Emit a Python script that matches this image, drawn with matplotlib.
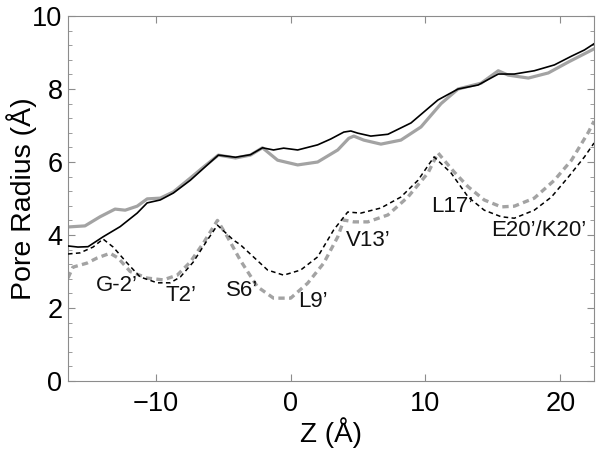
import matplotlib
matplotlib.use("Agg")
import matplotlib.pyplot as plt
from matplotlib.ticker import MultipleLocator

plt.rcParams['font.family'] = ['Liberation Sans', 'DejaVu Sans']

# Upper solid black curve
z_black_solid = [-16.5, -15.76, -15.01, -13.90, -12.63, -11.37, -10.63, -9.66, -8.69, -7.43,
                 -6.17, -5.35, -4.08, -2.97, -2.08, -1.26, -0.51, 0.53, 2.01, 2.98,
                 3.95, 4.47, 4.99, 5.95, 7.22, 8.93, 10.93, 12.42, 13.91, 15.40,
                 16.59, 18.07, 19.56, 20.83, 21.79, 22.5]
r_black_solid = [3.70, 3.67, 3.68, 3.95, 4.23, 4.60, 4.88, 4.96, 5.15, 5.50,
                 5.92, 6.19, 6.13, 6.20, 6.39, 6.33, 6.38, 6.33, 6.47, 6.63,
                 6.82, 6.85, 6.79, 6.71, 6.76, 7.07, 7.70, 8.00, 8.11, 8.41,
                 8.41, 8.50, 8.66, 8.90, 9.07, 9.24]

# Upper solid gray curve
z_gray_solid = [-16.5, -15.24, -14.12, -13.01, -12.26, -11.37, -10.63, -9.66, -8.69, -7.43,
                -6.46, -5.35, -4.08, -2.97, -2.08, -0.96, 0.53, 2.01, 3.50, 4.32,
                4.69, 5.43, 6.70, 8.18, 9.67, 11.16, 12.42, 14.13, 15.40, 16.14,
                17.63, 19.11, 20.60, 22.5]
r_gray_solid = [4.22, 4.25, 4.50, 4.71, 4.68, 4.79, 4.99, 5.01, 5.18, 5.56,
                5.86, 6.19, 6.11, 6.19, 6.39, 6.05, 5.92, 6.00, 6.33, 6.65,
                6.71, 6.60, 6.49, 6.60, 6.96, 7.60, 8.00, 8.16, 8.50, 8.38,
                8.30, 8.44, 8.74, 9.10]

# Lower dashed black curve
z_black_dash = [-16.5, -15.61, -14.64, -13.90, -13.15, -12.11, -11.15, -9.88, -8.92, -8.17,
                -7.21, -6.17, -5.42, -4.23, -3.71, -2.75, -1.70, -0.51, 0.75, 2.01,
                3.20, 4.24, 5.21, 6.70, 8.18, 9.45, 10.64, 11.90, 13.17, 14.36,
                15.62, 16.59, 18.07, 19.34, 20.60, 21.79, 22.5]
r_black_dash = [3.48, 3.51, 3.67, 3.89, 3.67, 3.23, 2.85, 2.69, 2.69, 2.85,
                3.26, 3.86, 4.27, 3.86, 3.73, 3.40, 3.04, 2.90, 3.04, 3.40,
                4.14, 4.63, 4.60, 4.74, 5.04, 5.50, 6.14, 5.70, 5.04, 4.68,
                4.50, 4.46, 4.68, 5.04, 5.59, 6.14, 6.52]

# Lower dashed gray curve
z_gray_dash = [-16.5, -16.13, -15.09, -14.34, -13.38, -12.78, -11.89, -10.63, -9.44, -8.40,
               -7.43, -6.46, -5.42, -4.68, -3.71, -2.45, -1.26, 0.01, 1.27, 2.46,
               3.50, 3.95, 4.69, 5.73, 7.22, 8.70, 10.19, 10.93, 12.12, 13.17,
               14.36, 15.62, 16.59, 18.07, 19.56, 20.83, 22.09, 22.5]
r_gray_dash = [2.82, 3.12, 3.23, 3.37, 3.50, 3.37, 3.00, 2.82, 2.77, 2.90,
               3.26, 3.78, 4.40, 3.95, 3.30, 2.58, 2.27, 2.27, 2.68, 3.23,
               3.95, 4.41, 4.36, 4.36, 4.55, 5.04, 5.70, 6.25, 5.73, 5.32,
               4.96, 4.77, 4.79, 5.01, 5.50, 6.05, 6.82, 7.12]

# Residue labels
label_text = ["G-2\u2019", "T2\u2019", "S6\u2019", "L9\u2019", "V13\u2019", "L17\u2019", "E20\u2019/K20\u2019"]
label_z = [-12.86, -8.10, -3.56, 1.64, 5.73, 11.98, 18.37]
label_r = [2.63, 2.33, 2.47, 2.19, 3.86, 4.79, 4.11]

fig = plt.figure(figsize=(6.01, 4.51), dpi=100)
ax = fig.add_axes([0.1131, 0.1552, 0.8753, 0.8093])

gray = '#a3a3a3'
ax.plot(z_gray_solid, r_gray_solid, color=gray, lw=2.3, solid_joinstyle='round', zorder=2)
ax.plot(z_black_solid, r_black_solid, color='black', lw=1.2, zorder=3)
ax.plot(z_gray_dash, r_gray_dash, color=gray, lw=2.4, linestyle=(0, (1.9, 1.3)), zorder=2)
ax.plot(z_black_dash, r_black_dash, color='black', lw=1.1, linestyle=(0, (3.0, 2.2)), zorder=3)

for t, zx, ry in zip(label_text, label_z, label_r):
    ax.text(zx, ry, t, fontsize=16, ha='center', va='center', color='#111111')

ax.set_xlim(-16.5, 22.5)
ax.set_ylim(0, 10)
ax.set_xticks([-10, 0, 10, 20])
ax.set_xticklabels(['\u221210', '0', '10', '20'])
ax.set_yticks([0, 2, 4, 6, 8, 10])
ax.yaxis.set_minor_locator(MultipleLocator(0.4))

for s in ax.spines.values():
    s.set_color('#8c8c8c')
    s.set_linewidth(0.8)
ax.tick_params(which='both', direction='in', top=True, right=True, color='#8c8c8c')
ax.tick_params(which='major', length=5, width=0.8, labelsize=19.5, pad=7)
ax.tick_params(axis='y', which='major', pad=4)
ax.tick_params(which='minor', length=3, width=0.6)

ax.set_xlabel('Z (\u00c5)', fontsize=20, labelpad=0)
ax.set_ylabel('Pore Radius (\u00c5)', fontsize=20.5, va='center')
ax.yaxis.set_label_coords(-0.088, 0.5)

fig.savefig('out.png', dpi=100)
